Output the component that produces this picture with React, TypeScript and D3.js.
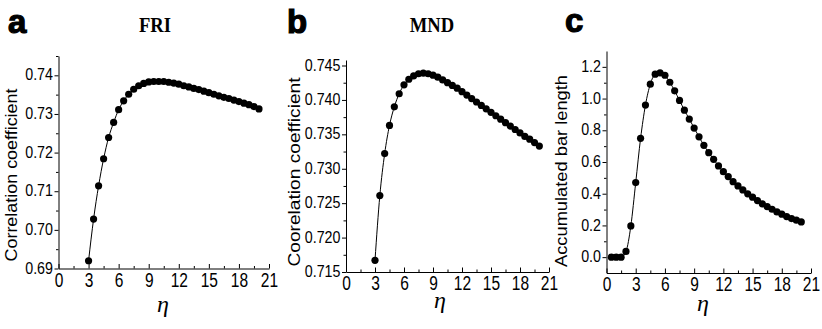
import { useEffect, useRef } from 'react';
import * as d3 from 'd3';

// eta values for the two correlation panels (a, b)
const etaCorr = [
  3, 3.5, 4, 4.5, 5, 5.5, 6, 6.5, 7, 7.5, 8, 8.5, 9, 9.5, 10, 10.5, 11, 11.5,
  12, 12.5, 13, 13.5, 14, 14.5, 15, 15.5, 16, 16.5, 17, 17.5, 18, 18.5, 19, 19.5, 20,
];
const corrFRI = [
  0.692, 0.7028, 0.7114, 0.7184, 0.7239, 0.7278, 0.7311, 0.7334, 0.7351, 0.7364,
  0.7373, 0.7379, 0.7383, 0.7384, 0.7384, 0.7384, 0.7382, 0.738, 0.7377, 0.7373,
  0.737, 0.7366, 0.7363, 0.7359, 0.7355, 0.7351, 0.7347, 0.7343, 0.734, 0.7336,
  0.7332, 0.7328, 0.7324, 0.7319, 0.7313,
];
const corrMND = [
  0.7167, 0.7261, 0.7322, 0.7363, 0.739, 0.7409, 0.7422, 0.743, 0.7435, 0.7438,
  0.7439, 0.7438, 0.7436, 0.7433, 0.7429, 0.7425, 0.7421, 0.7417, 0.7412, 0.7407,
  0.7402, 0.7397, 0.7392, 0.7387, 0.7382, 0.7377, 0.7372, 0.7367, 0.7362, 0.7357,
  0.7352, 0.7347, 0.7343, 0.7338, 0.7333,
];

// eta values for panel c
const etaBar = [
  0.5, 1, 1.5, 2, 2.5, 3, 3.5, 4, 4.5, 5, 5.5, 6, 6.5, 7, 7.5, 8, 8.5, 9, 9.5, 10,
  10.5, 11, 11.5, 12, 12.5, 13, 13.5, 14, 14.5, 15, 15.5, 16, 16.5, 17, 17.5, 18,
  18.5, 19, 19.5, 20,
];
const barLength = [
  0, 0, 0, 0.036, 0.197, 0.47, 0.749, 0.959, 1.091, 1.154, 1.162, 1.147, 1.103,
  1.049, 0.988, 0.927, 0.871, 0.814, 0.759, 0.705, 0.659, 0.617, 0.575, 0.539,
  0.508, 0.476, 0.449, 0.424, 0.399, 0.378, 0.357, 0.336, 0.319, 0.302, 0.285,
  0.271, 0.256, 0.243, 0.233, 0.222,
];

// tick labels
const xTicks = [0, 3, 6, 9, 12, 15, 18, 21];
const xMinor = [1.5, 4.5, 7.5, 10.5, 13.5, 16.5, 19.5];
const friTicks = [0.69, 0.7, 0.71, 0.72, 0.73, 0.74];
const friMinor = [0.695, 0.705, 0.715, 0.725, 0.735, 0.745];
const mndTicks = [0.715, 0.72, 0.725, 0.73, 0.735, 0.74, 0.745];
const mndMinor = [0.7175, 0.7225, 0.7275, 0.7325, 0.7375, 0.7425];
const barTicks = [0, 0.2, 0.4, 0.6, 0.8, 1.0, 1.2];
const barMinor = [0.1, 0.3, 0.5, 0.7, 0.9, 1.1];

const panels = [
  {
    letter: 'a', title: 'FRI', yLabel: 'Correlation coefficient',
    xs: etaCorr, ys: corrFRI, yTicks: friTicks, yMinor: friMinor, fmt: '.2f',
    xRange: [58.5, 269], yDomain: [0.69, 0.745], yRange: [268.5, 56],
    letterPos: [8, 33], titlePos: [155, 32], yLabelPos: [17, 175, 173], etaPos: [163, 312],
  },
  {
    letter: 'b', title: 'MND', yLabel: 'Coorelation coefficient',
    xs: etaCorr, ys: corrMND, yTicks: mndTicks, yMinor: mndMinor, fmt: '.3f',
    xRange: [346, 549], yDomain: [0.715, 0.7458], yRange: [272, 60],
    letterPos: [287, 33], titlePos: [432, 32], yLabelPos: [299.5, 172, 189], etaPos: [440, 308],
  },
  {
    letter: 'c', title: '', yLabel: 'Accumulated bar length',
    xs: etaBar, ys: barLength, yTicks: barTicks, yMinor: barMinor, fmt: '.1f',
    xRange: [606.5, 811], yDomain: [-0.1, 1.3], yRange: [273, 51],
    letterPos: [565, 32], titlePos: [0, 0], yLabelPos: [567, 171, 192], etaPos: [703, 311],
  },
];

const App = () => {
  const svgRef = useRef<SVGSVGElement>(null);

  useEffect(() => {
    const svg = d3.select(svgRef.current);
    svg.selectAll('*').remove();

    panels.forEach((p) => {
      const x = d3.scaleLinear().domain([0, 21]).range(p.xRange);
      const y = d3.scaleLinear().domain(p.yDomain).range(p.yRange);
      const x0 = p.xRange[0];
      const y0 = p.yRange[0];
      const g = svg.append('g');

      // minor ticks
      g.append('g')
        .attr('transform', `translate(0,${y0})`)
        .call(d3.axisBottom(x).tickValues(xMinor).tickSizeInner(-2.5).tickSizeOuter(0).tickFormat(() => ''))
        .call((s) => s.select('.domain').remove());
      g.append('g')
        .attr('transform', `translate(${x0},0)`)
        .call(d3.axisLeft(y).tickValues(p.yMinor).tickSizeInner(2.5).tickSizeOuter(0).tickFormat(() => ''))
        .call((s) => s.select('.domain').remove());

      // x axis
      const xa = g.append('g')
        .attr('transform', `translate(0,${y0})`)
        .call(d3.axisBottom(x).tickValues(xTicks).tickSizeInner(-4.5).tickSizeOuter(0).tickFormat(d3.format('d')));
      xa.selectAll('text')
        .attr('y', 0)
        .attr('dy', null)
        .attr('transform', 'translate(0,18) scale(0.74,1)')
        .attr('font-size', 21)
        .attr('font-family', 'Liberation Sans, Arial, sans-serif')
        .attr('fill', '#000');

      // y axis
      const ya = g.append('g')
        .attr('transform', `translate(${x0},0)`)
        .call(d3.axisLeft(y).tickValues(p.yTicks).tickSizeInner(4).tickSizeOuter(0).tickFormat(d3.format(p.fmt)));
      ya.selectAll('text')
        .attr('x', 0)
        .attr('dy', '0.36em')
        .attr('transform', 'translate(-5.5,-1.5) scale(0.84,1)')
        .attr('font-size', 17)
        .attr('font-family', 'Liberation Sans, Arial, sans-serif')
        .attr('fill', '#000');

      g.selectAll('.domain').attr('stroke', '#000').attr('stroke-width', 1);
      g.selectAll('.tick line').attr('stroke', '#000').attr('stroke-width', 1);

      // line + dots
      const pts = p.xs.map((v, i) => [v, p.ys[i]] as [number, number]);
      g.append('path')
        .datum(pts)
        .attr('fill', 'none')
        .attr('stroke', '#000')
        .attr('stroke-width', 1)
        .attr('d', d3.line().x((d) => x(d[0])).y((d) => y(d[1])).curve(d3.curveMonotoneX));
      g.selectAll('circle.pt')
        .data(pts)
        .join('circle')
        .attr('cx', (d) => x(d[0]))
        .attr('cy', (d) => y(d[1]))
        .attr('r', 3.6)
        .attr('fill', '#000');

      // y label
      const [lx, ly, len] = p.yLabelPos;
      g.append('text')
        .attr('transform', `translate(${lx},${ly}) rotate(-90)`)
        .attr('text-anchor', 'middle')
        .attr('font-size', 17)
        .attr('font-family', 'Liberation Sans, Arial, sans-serif')
        .attr('textLength', len)
        .attr('lengthAdjust', 'spacingAndGlyphs')
        .text(p.yLabel);

      // eta
      g.append('text')
        .attr('x', p.etaPos[0])
        .attr('y', p.etaPos[1])
        .attr('text-anchor', 'middle')
        .attr('font-size', 24)
        .attr('font-style', 'italic')
        .attr('font-family', 'Liberation Serif, Times New Roman, serif')
        .text('η');

      // panel letter
      g.append('text')
        .attr('x', p.letterPos[0])
        .attr('y', p.letterPos[1])
        .attr('font-size', 33)
        .attr('font-weight', 'bold')
        .attr('stroke', '#000')
        .attr('stroke-width', 1.2)
        .attr('font-family', 'Liberation Sans, Arial, sans-serif')
        .text(p.letter);

      // title
      if (p.title) {
        g.append('text')
          .attr('transform', `translate(${p.titlePos[0]},${p.titlePos[1]}) scale(0.93,1)`)
          .attr('text-anchor', 'middle')
          .attr('font-size', 20)
          .attr('font-weight', 'bold')
          .attr('font-family', 'Liberation Serif, Times New Roman, serif')
          .text(p.title);
      }
    });
  }, []);

  return (
    <svg
      ref={svgRef}
      width={822}
      height={329}
      style={{ position: 'absolute', left: 0, top: 0, background: '#fff' }}
    />
  );
};

export default App;
